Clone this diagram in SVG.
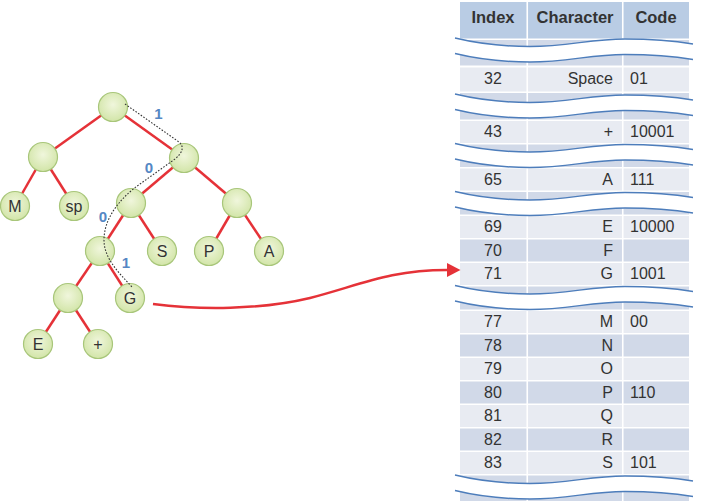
<svg xmlns="http://www.w3.org/2000/svg" width="701" height="501" viewBox="0 0 701 501">
<style>
.edge{stroke:#e53238;stroke-width:2.5;fill:none}
.node circle{fill:url(#ng);stroke:#a8c67a;stroke-width:1.2}
.node text{font-family:"Liberation Sans",Arial,sans-serif;font-size:16px;fill:#333;text-anchor:middle}
.bit{font-family:"Liberation Sans",Arial,sans-serif;font-weight:bold;font-size:15px;fill:#5587c4;text-anchor:middle}
.path{fill:none;stroke:#333;stroke-width:1.1;stroke-dasharray:1.6 1.6}
.hdr{fill:#b9cce4}
.lt{fill:#e8ebf2}
.dk{fill:#d1d9e8}
.th{font-family:"Liberation Sans",Arial,sans-serif;font-weight:bold;font-size:16.5px;fill:#333;text-anchor:middle}
.td{font-family:"Liberation Sans",Arial,sans-serif;font-size:16px;fill:#333}
.ix{text-anchor:middle}
.ch{text-anchor:end}
.sep{stroke:#fff;stroke-width:1.6}
.wl{fill:none;stroke:#4d7dbb;stroke-width:1.4}
.band{fill:#fff}
</style>
<defs>
<radialGradient id="ng" cx="50%" cy="42%" r="58%">
<stop offset="0" stop-color="#f0f6dc"/>
<stop offset="1" stop-color="#d2e5a8"/>
</radialGradient>
<marker id="ah" markerUnits="userSpaceOnUse" markerWidth="16" markerHeight="16" refX="0" refY="7" orient="auto">
<path d="M0,0 L13.5,7 L0,14 Z" fill="#e53238"/>
</marker>
<path id="wv" d="M455,0 C480,6 505,8.5 530,8.5 C568,8.5 590,1 625,1 C650,1 675,3 693,6"/>
<path id="band" d="M455,0 C480,6 505,8.5 530,8.5 C568,8.5 590,1 625,1 C650,1 675,3 693,6 L693,21.5 C675,18.5 650,16.5 625,16.5 C590,16.5 568,24 530,24 C505,24 480,21.5 455,15.5 Z"/>
</defs>

<!-- table -->
<g id="table">
<g id="fills">
<rect class="hdr" x="460" y="2" width="229" height="36.5"/>
<rect class="dk" x="460" y="40" width="229" height="25.5"/>
<rect class="lt" x="460" y="67.5" width="229" height="24"/>
<rect class="dk" x="460" y="93" width="229" height="26.5"/>
<rect class="lt" x="460" y="121" width="229" height="22"/>
<rect class="dk" x="460" y="144.5" width="229" height="22.5"/>
<rect class="lt" x="460" y="168.5" width="229" height="22"/>
<rect class="dk" x="460" y="192" width="229" height="22.5"/>
<rect class="lt" x="460" y="216" width="229" height="22"/>
<rect class="dk" x="460" y="239.5" width="229" height="22"/>
<rect class="lt" x="460" y="263" width="229" height="22"/>
<rect class="dk" x="460" y="286.5" width="229" height="23"/>
<rect class="lt" x="460" y="311" width="229" height="22"/>
<rect class="dk" x="460" y="334.5" width="229" height="22"/>
<rect class="lt" x="460" y="358" width="229" height="22"/>
<rect class="dk" x="460" y="381.5" width="229" height="22"/>
<rect class="lt" x="460" y="405" width="229" height="22"/>
<rect class="dk" x="460" y="428.5" width="229" height="22"/>
<rect class="lt" x="460" y="452" width="229" height="22"/>
<rect class="dk" x="460" y="475.5" width="229" height="25.5"/>
</g>
<line class="sep" x1="527.25" y1="0" x2="527.25" y2="501"/>
<line class="sep" x1="622.75" y1="0" x2="622.75" y2="501"/>
<g id="breaks">
<g transform="translate(0,38)"><use href="#band" class="band"/><use href="#wv" class="wl"/><use href="#wv" class="wl" y="15.5"/></g>
<g transform="translate(0,94)"><use href="#band" class="band"/><use href="#wv" class="wl"/><use href="#wv" class="wl" y="15.5"/></g>
<g transform="translate(0,143.5)"><use href="#band" class="band"/><use href="#wv" class="wl"/><use href="#wv" class="wl" y="15.5"/></g>
<g transform="translate(0,191.5)"><use href="#band" class="band"/><use href="#wv" class="wl"/><use href="#wv" class="wl" y="15.5"/></g>
<g transform="translate(0,285.5)"><use href="#band" class="band"/><use href="#wv" class="wl"/><use href="#wv" class="wl" y="15.5"/></g>
<g transform="translate(0,475)"><use href="#band" class="band"/><use href="#wv" class="wl"/><use href="#wv" class="wl" y="15.5"/></g>
</g>
<g id="header">
<text class="th" x="493" y="23">Index</text>
<text class="th" x="575" y="23">Character</text>
<text class="th" x="656" y="23">Code</text>
</g>
<g id="rows" class="td">
<text class="ix" x="493" y="84">32</text><text class="ch" x="613" y="84">Space</text><text x="630" y="84">01</text>
<text class="ix" x="493" y="137">43</text><text class="ch" x="613" y="137">+</text><text x="630" y="137">10001</text>
<text class="ix" x="493" y="185">65</text><text class="ch" x="613" y="185">A</text><text x="630" y="185">111</text>
<text class="ix" x="493" y="232.3">69</text><text class="ch" x="613" y="232.3">E</text><text x="630" y="232.3">10000</text>
<text class="ix" x="493" y="255.8">70</text><text class="ch" x="613" y="255.8">F</text>
<text class="ix" x="493" y="279.3">71</text><text class="ch" x="613" y="279.3">G</text><text x="630" y="279.3">1001</text>
<text class="ix" x="493" y="327.3">77</text><text class="ch" x="613" y="327.3">M</text><text x="630" y="327.3">00</text>
<text class="ix" x="493" y="350.8">78</text><text class="ch" x="613" y="350.8">N</text>
<text class="ix" x="493" y="374.3">79</text><text class="ch" x="613" y="374.3">O</text>
<text class="ix" x="493" y="397.8">80</text><text class="ch" x="613" y="397.8">P</text><text x="630" y="397.8">110</text>
<text class="ix" x="493" y="421.3">81</text><text class="ch" x="613" y="421.3">Q</text>
<text class="ix" x="493" y="444.8">82</text><text class="ch" x="613" y="444.8">R</text>
<text class="ix" x="493" y="468.3">83</text><text class="ch" x="613" y="468.3">S</text><text x="630" y="468.3">101</text>
</g>
</g>

<!-- connectors -->
<g id="connectors">
<line class="edge" x1="113" y1="107" x2="43" y2="157"/>
<line class="edge" x1="113" y1="107" x2="184" y2="158"/>
<line class="edge" x1="43" y1="157" x2="15" y2="206"/>
<line class="edge" x1="43" y1="157" x2="74" y2="206"/>
<line class="edge" x1="184" y1="158" x2="131" y2="203"/>
<line class="edge" x1="184" y1="158" x2="237" y2="203"/>
<line class="edge" x1="131" y1="203" x2="100" y2="251"/>
<line class="edge" x1="131" y1="203" x2="162" y2="251"/>
<line class="edge" x1="237" y1="203" x2="209" y2="251"/>
<line class="edge" x1="237" y1="203" x2="269" y2="251"/>
<line class="edge" x1="100" y1="251" x2="68" y2="298"/>
<line class="edge" x1="100" y1="251" x2="130" y2="298"/>
<line class="edge" x1="68" y1="298" x2="38" y2="344"/>
<line class="edge" x1="68" y1="298" x2="98" y2="344"/>
<path class="edge" d="M153,304 C200,310 260,310 310,298 C360,285 390,270 447,270" marker-end="url(#ah)"/>
</g>

<!-- nodes -->
<g id="n-root" class="node"><circle cx="113" cy="107" r="14.5"/></g>
<g id="n-l" class="node"><circle cx="43" cy="157" r="14.5"/></g>
<g id="n-r" class="node"><circle cx="184" cy="158" r="14.5"/></g>
<g id="n-M" class="node"><circle cx="15" cy="206" r="14.5"/><text x="15" y="211.5">M</text></g>
<g id="n-sp" class="node"><circle cx="74" cy="206" r="14.5"/><text x="74" y="211.5">sp</text></g>
<g id="n-rl" class="node"><circle cx="131" cy="203" r="14.5"/></g>
<g id="n-rr" class="node"><circle cx="237" cy="203" r="14.5"/></g>
<g id="n-rll" class="node"><circle cx="100" cy="251" r="14.5"/></g>
<g id="n-S" class="node"><circle cx="162" cy="251" r="14.5"/><text x="162" y="256.5">S</text></g>
<g id="n-P" class="node"><circle cx="209" cy="251" r="14.5"/><text x="209" y="256.5">P</text></g>
<g id="n-A" class="node"><circle cx="269" cy="251" r="14.5"/><text x="269" y="256.5">A</text></g>
<g id="n-x" class="node"><circle cx="68" cy="298" r="14.5"/></g>
<g id="n-G" class="node"><circle cx="130" cy="298" r="14.5"/><text x="130" y="303.5">G</text></g>
<g id="n-E" class="node"><circle cx="38" cy="344" r="14.5"/><text x="38" y="349.5">E</text></g>
<g id="n-plus" class="node"><circle cx="98" cy="344" r="14.5"/><text x="98" y="349.5">+</text></g>

<!-- code path -->
<g id="codepath">
<path class="path" d="M125,104 L179,142 Q187,149 175,159 L140,184 C120,198 104,218 104,240 C104,258 118,272 133,288"/>
<text class="bit" x="158.5" y="119">1</text>
<text class="bit" x="149" y="173.3">0</text>
<text class="bit" x="103" y="221.5">0</text>
<text class="bit" x="126" y="268">1</text>
</g>
</svg>
